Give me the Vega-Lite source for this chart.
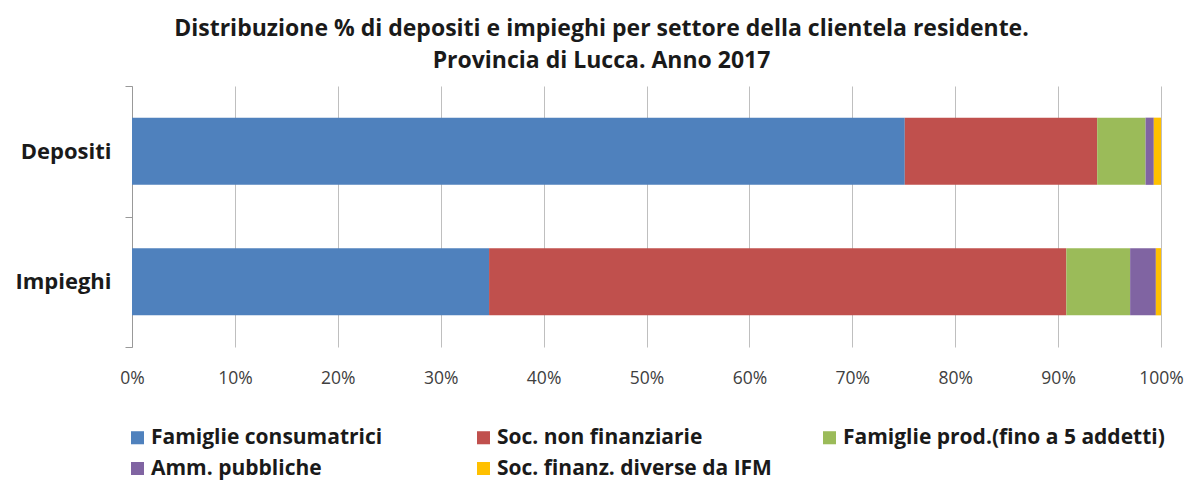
{
  "$schema": "https://vega.github.io/schema/vega-lite/v6.json",
  "width": 1029,
  "height": 261,
  "autosize": "none",
  "padding": {"left": 132, "top": 86, "right": 28, "bottom": 139},
  "background": "white",
  "title": {
    "text": ["Distribuzione % di depositi e impieghi per settore della clientela residente.", "Provincia di Lucca. Anno 2017"],
    "font": "Open Sans",
    "fontSize": 23,
    "fontWeight": "bold",
    "color": "#1a1a1a",
    "anchor": "middle",
    "dx": -45,
    "offset": 2,
    "lineHeight": 32
  },
  "data": {
    "values": [
      {"voce": "Depositi", "settore": "Famiglie consumatrici", "k": 1, "quota": 0.751},
      {"voce": "Depositi", "settore": "Soc. non finanziarie", "k": 2, "quota": 0.187},
      {"voce": "Depositi", "settore": "Famiglie prod.(fino a 5 addetti)", "k": 3, "quota": 0.047},
      {"voce": "Depositi", "settore": "Amm. pubbliche", "k": 4, "quota": 0.008},
      {"voce": "Depositi", "settore": "Soc. finanz. diverse da IFM", "k": 5, "quota": 0.007},
      {"voce": "Impieghi", "settore": "Famiglie consumatrici", "k": 1, "quota": 0.347},
      {"voce": "Impieghi", "settore": "Soc. non finanziarie", "k": 2, "quota": 0.561},
      {"voce": "Impieghi", "settore": "Famiglie prod.(fino a 5 addetti)", "k": 3, "quota": 0.062},
      {"voce": "Impieghi", "settore": "Amm. pubbliche", "k": 4, "quota": 0.025},
      {"voce": "Impieghi", "settore": "Soc. finanz. diverse da IFM", "k": 5, "quota": 0.005}
    ]
  },
  "mark": {"type": "bar", "height": {"band": 0.515}},
  "encoding": {
    "y": {
      "field": "voce",
      "type": "nominal",
      "sort": ["Depositi", "Impieghi"],
      "scale": {"paddingInner": 0, "paddingOuter": 0},
      "axis": {
        "title": null,
        "labelFont": "Open Sans",
        "labelFontSize": 22,
        "labelFontWeight": "bold",
        "labelColor": "#1a1a1a",
        "labelPadding": 14,
        "domainColor": "#999999",
        "tickColor": "#999999",
        "tickSize": 7,
        "tickBand": "extent",
        "grid": false
      }
    },
    "x": {
      "field": "quota",
      "type": "quantitative",
      "stack": "zero",
      "scale": {"domain": [0, 1], "nice": false},
      "axis": {
        "title": null,
        "format": "%",
        "values": [0, 0.1, 0.2, 0.3, 0.4, 0.5, 0.6, 0.7, 0.8, 0.9, 1],
        "labelFont": "Open Sans",
        "labelFontSize": 17.5,
        "labelColor": "#404040",
        "labelPadding": 22,
        "labelFlush": false,
        "labelOverlap": false,
        "domain": false,
        "ticks": false,
        "grid": true,
        "gridColor": "#bfbfbf",
        "gridWidth": 1
      }
    },
    "order": {"field": "k", "type": "quantitative"},
    "color": {
      "field": "settore",
      "type": "nominal",
      "sort": ["Famiglie consumatrici", "Soc. non finanziarie", "Famiglie prod.(fino a 5 addetti)", "Amm. pubbliche", "Soc. finanz. diverse da IFM"],
      "scale": {
        "domain": ["Famiglie consumatrici", "Soc. non finanziarie", "Famiglie prod.(fino a 5 addetti)", "Amm. pubbliche", "Soc. finanz. diverse da IFM"],
        "range": ["#4F81BD", "#C0504D", "#9BBB59", "#8064A2", "#FFC000"]
      },
      "legend": {
        "title": null,
        "orient": "none",
        "legendX": -5,
        "legendY": 341,
        "direction": "horizontal",
        "columns": 3,
        "gridAlign": "all",
        "columnPadding": 0,
        "rowPadding": 9,
        "symbolType": "square",
        "symbolSize": 170,
        "symbolStrokeWidth": 0,
        "labelFont": "Open Sans",
        "labelFontSize": 21,
        "labelFontWeight": "bold",
        "labelColor": "#1a1a1a",
        "labelLimit": 400,
        "labelOffset": 3
      }
    }
  },
  "config": {"view": {"stroke": null}}
}
